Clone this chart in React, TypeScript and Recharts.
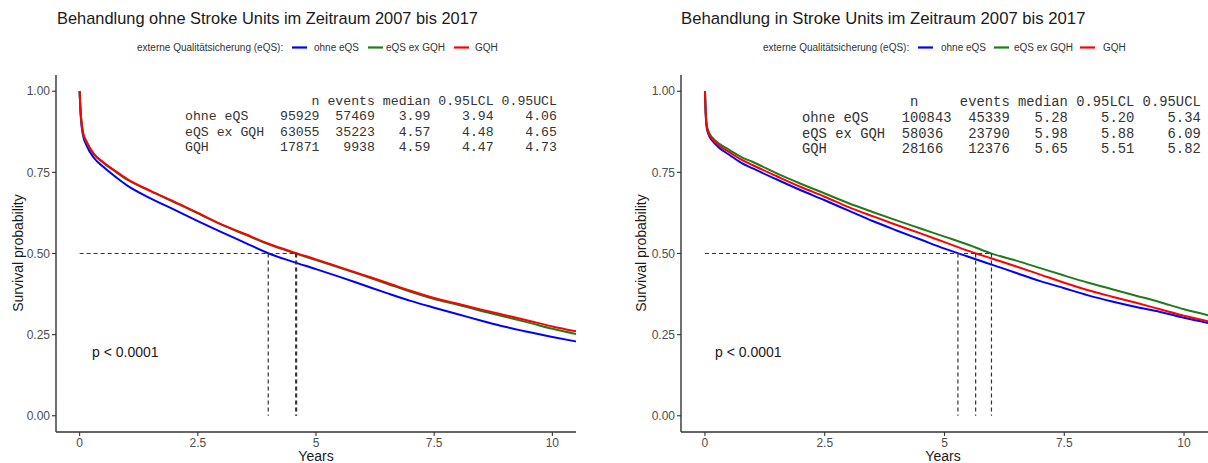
import React from 'react';
import { LineChart, Line, XAxis, YAxis, ReferenceLine } from 'recharts';

const TIMES = [0, 0.01, 0.03, 0.07, 0.15, 0.3, 0.5, 0.75, 1, 1.5, 2, 2.5, 3, 3.5, 4, 4.5, 5, 5.5, 6, 6.5, 7, 7.5, 8, 8.5, 9, 9.5, 10, 10.5];

const LEFT_OHNE = [1, 0.96, 0.91, 0.865, 0.832, 0.795, 0.767, 0.737, 0.71, 0.67, 0.635, 0.6, 0.566, 0.533, 0.5, 0.475, 0.452, 0.428, 0.403, 0.378, 0.354, 0.333, 0.313, 0.293, 0.274, 0.258, 0.243, 0.229];
const LEFT_EQS = [1, 0.963, 0.918, 0.872, 0.842, 0.806, 0.78, 0.753, 0.728, 0.692, 0.658, 0.624, 0.589, 0.558, 0.528, 0.503, 0.48, 0.456, 0.432, 0.407, 0.382, 0.36, 0.342, 0.323, 0.305, 0.287, 0.268, 0.252];
const LEFT_GQH = [1, 0.965, 0.92, 0.874, 0.844, 0.807, 0.781, 0.755, 0.73, 0.693, 0.66, 0.625, 0.59, 0.56, 0.53, 0.505, 0.482, 0.458, 0.434, 0.41, 0.385, 0.363, 0.345, 0.327, 0.31, 0.293, 0.275, 0.26];

const RIGHT_OHNE = [1, 0.95, 0.895, 0.868, 0.848, 0.825, 0.805, 0.78, 0.762, 0.728, 0.695, 0.664, 0.632, 0.6, 0.571, 0.543, 0.515, 0.49, 0.465, 0.44, 0.415, 0.393, 0.371, 0.352, 0.335, 0.32, 0.302, 0.286];
const RIGHT_EQS = [1, 0.958, 0.905, 0.878, 0.858, 0.838, 0.82, 0.798, 0.782, 0.747, 0.715, 0.685, 0.655, 0.628, 0.602, 0.577, 0.552, 0.527, 0.499, 0.478, 0.455, 0.432, 0.41, 0.39, 0.37, 0.35, 0.328, 0.31];
const RIGHT_GQH = [1, 0.955, 0.9, 0.873, 0.853, 0.832, 0.813, 0.79, 0.772, 0.738, 0.705, 0.675, 0.643, 0.615, 0.588, 0.562, 0.535, 0.508, 0.484, 0.46, 0.435, 0.41, 0.387, 0.367, 0.348, 0.328, 0.308, 0.291];

const SERIES_NAMES = ['ohne eQS', 'eQS ex GQH', 'GQH'];
const SERIES_COLORS = ['#0000FF', '#1E7B1E', '#FF0000'];

const LEFT_MEDIANS = [3.99, 4.57, 4.59];
const RIGHT_MEDIANS = [5.28, 5.98, 5.65];

const X_TICKS = [0, 2.5, 5, 7.5, 10];
const Y_TICKS = [0, 0.25, 0.5, 0.75, 1];

const LEFT_TITLE = 'Behandlung ohne Stroke Units im Zeitraum 2007 bis 2017';
const RIGHT_TITLE = 'Behandlung in Stroke Units im Zeitraum 2007 bis 2017';
const LEGEND_TITLE = 'externe Qualitätsicherung (eQS):';

const LEFT_TABLE = [
  '                n events median 0.95LCL 0.95UCL',
  'ohne eQS    95929  57469   3.99    3.94    4.06',
  'eQS ex GQH  63055  35223   4.57    4.48    4.65',
  'GQH         17871   9938   4.59    4.47    4.73',
];
const RIGHT_TABLE = [
  '             n     events median 0.95LCL 0.95UCL',
  'ohne eQS    100843  45339   5.28    5.20    5.34',
  'eQS ex GQH  58036   23790   5.98    5.88    6.09',
  'GQH         28166   12376   5.65    5.51    5.82',
];
const P_VALUE = 'p < 0.0001';

const build = (a: number[], b: number[], c: number[]) =>
  TIMES.map((t, i) => ({ t, s0: a[i], s1: b[i], s2: c[i] }));

const LEFT_DATA = build(LEFT_OHNE, LEFT_EQS, LEFT_GQH);
const RIGHT_DATA = build(RIGHT_OHNE, RIGHT_EQS, RIGHT_GQH);

const SANS = '"Liberation Sans", Arial, sans-serif';
const MONO = '"Liberation Mono", "DejaVu Sans Mono", monospace';
const AXIS = '#333';

type PanelProps = {
  data: any[];
  medians: number[];
  left: number;
  width: number;
  yAxisWidth: number;
  marginRight: number;
};

function Panel({ data, medians, left, width, yAxisWidth, marginRight }: PanelProps) {
  const maxMed = Math.max(...medians);
  return (
    <div style={{ position: 'absolute', left, top: 0 }}>
      <LineChart width={width} height={463} data={data} margin={{ top: 75, right: marginRight, bottom: 0, left: 0 }}>
        <XAxis
          dataKey="t"
          type="number"
          domain={[-0.5, 10.5]}
          ticks={X_TICKS}
          allowDataOverflow
          height={31}
          tickSize={4}
          tickMargin={2}
          tick={{ fontSize: 12, fill: '#4d4d4d', fontFamily: SANS }}
          tickFormatter={(v: number) => String(v)}
          axisLine={{ stroke: AXIS, strokeWidth: 1.4 }}
          tickLine={{ stroke: AXIS, strokeWidth: 1.1 }}
        />
        <YAxis
          type="number"
          domain={[-0.05, 1.05]}
          ticks={Y_TICKS}
          allowDataOverflow
          width={yAxisWidth}
          tickSize={4}
          tickMargin={2}
          tick={{ fontSize: 12, fill: '#4d4d4d', fontFamily: SANS }}
          tickFormatter={(v: number) => v.toFixed(2)}
          axisLine={{ stroke: AXIS, strokeWidth: 1.4 }}
          tickLine={{ stroke: AXIS, strokeWidth: 1.1 }}
        />
        {SERIES_NAMES.map((name, i) => (
          <Line
            key={name}
            dataKey={'s' + i}
            name={name}
            type="monotone"
            stroke={SERIES_COLORS[i]}
            strokeWidth={2}
            dot={false}
            activeDot={false}
            isAnimationActive={false}
          />
        ))}
        <ReferenceLine
          segment={[{ x: 0, y: 0.5 }, { x: maxMed, y: 0.5 }]}
          stroke="#333"
          strokeWidth={1.2}
          strokeDasharray="4 3"
        />
        {medians.map((m, i) => (
          <ReferenceLine
            key={i}
            segment={[{ x: m, y: 0.5 }, { x: m, y: 0 }]}
            stroke="#333"
            strokeWidth={1.2}
            strokeDasharray="4 3"
          />
        ))}
      </LineChart>
    </div>
  );
}

type LegendProps = { x: number[]; y: number };
function LegendRow({ x, y }: LegendProps) {
  return (
    <g fontFamily={SANS} fontSize={10} fill="#333">
      <text x={x[0]} y={y}>{LEGEND_TITLE}</text>
      {SERIES_NAMES.map((n, i) => (
        <g key={n}>
          <line x1={x[1 + i * 2]} x2={x[1 + i * 2] + 15} y1={y - 3.5} y2={y - 3.5} stroke={SERIES_COLORS[i]} strokeWidth={2.2} />
          <text x={x[2 + i * 2]} y={y}>{n}</text>
        </g>
      ))}
    </g>
  );
}

export default function App() {
  return (
    <div style={{ position: 'fixed', left: 0, top: 0, width: 1208, height: 463, overflow: 'hidden', background: '#fff' }}>
      <Panel data={LEFT_DATA} medians={LEFT_MEDIANS} left={0} width={600} yAxisWidth={56} marginRight={24} />
      <Panel data={RIGHT_DATA} medians={RIGHT_MEDIANS} left={608} width={600} yAxisWidth={73} marginRight={0} />
      <svg width={1208} height={463} style={{ position: 'absolute', left: 0, top: 0, pointerEvents: 'none' }}>
        <text x={57} y={24} fontFamily={SANS} fontSize={16.4} fill="#1a1a1a">{LEFT_TITLE}</text>
        <text x={681} y={24} fontFamily={SANS} fontSize={16.7} fill="#1a1a1a">{RIGHT_TITLE}</text>
        <LegendRow x={[137, 292, 314, 368, 386, 454, 475]} y={51} />
        <LegendRow x={[763, 918, 941, 994, 1014, 1080, 1103]} y={51} />
        <g fontFamily={MONO} fontSize={13.2} fill="#333" style={{ whiteSpace: 'pre' }}>
          {LEFT_TABLE.map((l, i) => (
            <text key={i} x={185} y={105 + i * 15.3} xmlSpace="preserve">{l}</text>
          ))}
        </g>
        <g fontFamily={MONO} fontSize={13.85} fill="#333" style={{ whiteSpace: 'pre' }}>
          {RIGHT_TABLE.map((l, i) => (
            <text key={i} x={802} y={106 + i * 15.8} xmlSpace="preserve">{l}</text>
          ))}
        </g>
        <text x={92} y={357} fontFamily={SANS} fontSize={14} fill="#1a1a1a">{P_VALUE}</text>
        <text x={715} y={357} fontFamily={SANS} fontSize={14} fill="#1a1a1a">{P_VALUE}</text>
        <text transform="translate(23,253) rotate(-90)" textAnchor="middle" fontFamily={SANS} fontSize={14} fill="#1a1a1a">Survival probability</text>
        <text transform="translate(646,253) rotate(-90)" textAnchor="middle" fontFamily={SANS} fontSize={14} fill="#1a1a1a">Survival probability</text>
        <text x={316} y={461} textAnchor="middle" fontFamily={SANS} fontSize={14} fill="#1a1a1a">Years</text>
        <text x={943} y={461} textAnchor="middle" fontFamily={SANS} fontSize={14} fill="#1a1a1a">Years</text>
      </svg>
    </div>
  );
}
